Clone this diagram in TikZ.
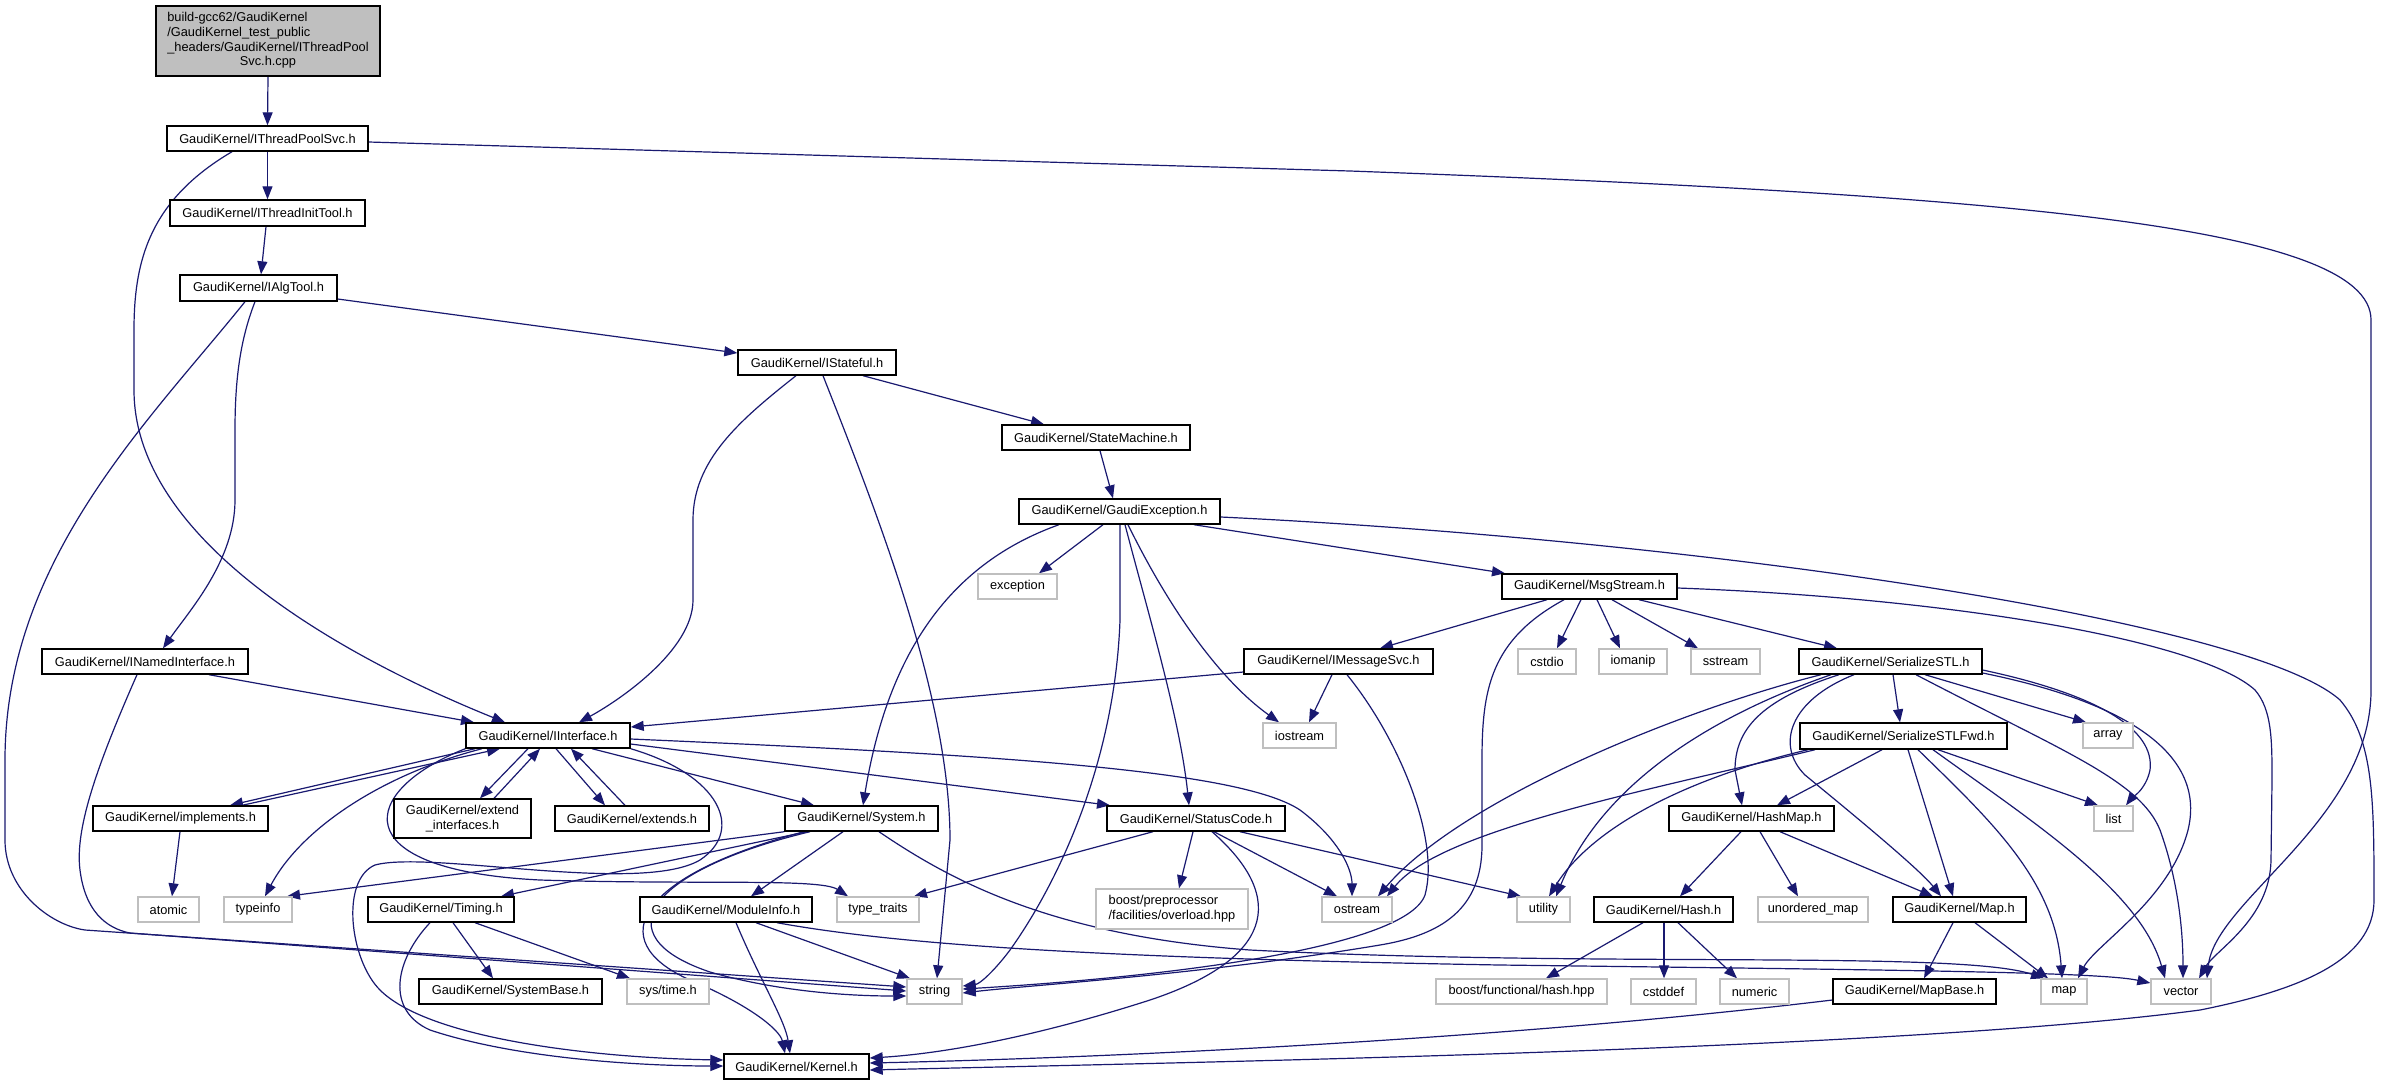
\documentclass[tikz,border=0pt]{standalone}
\usepackage{fontspec}
\setmainfont{Liberation Sans}
\usetikzlibrary{arrows.meta}
\pgfdeclarelayer{bg}
\pgfsetlayers{bg,main}
\definecolor{edgec}{HTML}{191970}
\definecolor{greyc}{HTML}{BFBFBF}
\tikzset{
  gbox/.style={draw=black, fill=white, line width=1.4pt, inner sep=0pt, font=\fontsize{12.8}{14.7}\selectfont},
  sbox/.style={gbox, draw=greyc},
  rootbox/.style={gbox, fill=greyc},
  edge/.style={draw=edgec, line width=1.2pt, -{Triangle[length=13pt,width=10pt]}},
}
\newcommand{\gn}[7]{\node[#2, minimum width={#4pt-#3pt}, minimum height={#6pt-#5pt}] (#1) at ({(#3+#4)/2},{(#5+#6)/2}) {#7};}
\begin{document}
\begin{tikzpicture}[x=1pt,y=-1pt]
\useasboundingbox (0,0) rectangle (2381,1085);
\gn{root}{rootbox}{156}{380}{6}{76}{\begin{tabular}{@{}l@{}}build-gcc62/GaudiKernel\\/GaudiKernel\_test\_public\\\_headers/GaudiKernel/IThreadPool\\\multicolumn{1}{@{}c@{}}{Svc.h.cpp}\end{tabular}}
\gn{itps}{gbox}{167}{368}{126}{151}{GaudiKernel/IThreadPoolSvc.h}
\gn{itit}{gbox}{170}{365}{200}{226}{GaudiKernel/IThreadInitTool.h}
\gn{ialg}{gbox}{180}{337}{275}{301}{GaudiKernel/IAlgTool.h}
\gn{istate}{gbox}{738}{896}{350}{375}{GaudiKernel/IStateful.h}
\gn{smach}{gbox}{1002}{1190}{425}{450}{GaudiKernel/StateMachine.h}
\gn{gexc}{gbox}{1019}{1220}{499}{524}{GaudiKernel/GaudiException.h}
\gn{exc}{sbox}{978}{1057}{574}{599}{exception}
\gn{msgs}{gbox}{1502}{1677}{574}{599}{GaudiKernel/MsgStream.h}
\gn{imsg}{gbox}{1244}{1433}{649}{674}{GaudiKernel/IMessageSvc.h}
\gn{cstdio}{sbox}{1518}{1576}{649}{674}{cstdio}
\gn{iomanip}{sbox}{1599}{1667}{649}{674}{iomanip}
\gn{sstream}{sbox}{1691}{1760}{649}{674}{sstream}
\gn{sstl}{gbox}{1799}{1982}{649}{674}{GaudiKernel/SerializeSTL.h}
\gn{inamed}{gbox}{42}{248}{649}{674}{GaudiKernel/INamedInterface.h}
\gn{iiface}{gbox}{466}{630}{723}{748}{GaudiKernel/IInterface.h}
\gn{iostream}{sbox}{1263}{1336}{723}{748}{iostream}
\gn{sstlfwd}{gbox}{1800}{2007}{723}{749}{GaudiKernel/SerializeSTLFwd.h}
\gn{array}{sbox}{2083}{2133}{723}{748}{array}
\gn{impl}{gbox}{93}{268}{806}{831}{GaudiKernel/implements.h}
\gn{extif}{gbox,align=center}{394}{531}{799}{838}{GaudiKernel/extend\\\_interfaces.h}
\gn{extends}{gbox}{555}{709}{806}{831}{GaudiKernel/extends.h}
\gn{system}{gbox}{785}{938}{806}{831}{GaudiKernel/System.h}
\gn{statcode}{gbox}{1107}{1285}{806}{831}{GaudiKernel/StatusCode.h}
\gn{hashmap}{gbox}{1669}{1834}{806}{831}{GaudiKernel/HashMap.h}
\gn{list}{sbox}{2094}{2133}{806}{831}{list}
\gn{atomic}{sbox}{138}{199}{897}{922}{atomic}
\gn{typeinfo}{sbox}{224}{292}{897}{922}{typeinfo}
\gn{timing}{gbox}{368}{514}{897}{922}{GaudiKernel/Timing.h}
\gn{modinfo}{gbox}{640}{812}{897}{922}{GaudiKernel/ModuleInfo.h}
\gn{typetraits}{sbox}{837}{919}{897}{922}{type\_traits}
\gn{boostpp}{sbox,align=left}{1096}{1248}{889}{929}{boost/preprocessor\\/facilities/overload.hpp}
\gn{ostream}{sbox}{1322}{1392}{897}{922}{ostream}
\gn{utility}{sbox}{1517}{1570}{897}{922}{utility}
\gn{hash}{gbox}{1594}{1733}{897}{922}{GaudiKernel/Hash.h}
\gn{unomap}{sbox}{1758}{1868}{897}{922}{unordered\_map}
\gn{mapH}{gbox}{1893}{2026}{897}{922}{GaudiKernel/Map.h}
\gn{sysbase}{gbox}{419}{602}{979}{1004}{GaudiKernel/SystemBase.h}
\gn{systime}{sbox}{627}{709}{979}{1004}{sys/time.h}
\gn{string}{sbox}{907}{962}{979}{1004}{string}
\gn{boostfh}{sbox}{1436}{1607}{979}{1004}{boost/functional/hash.hpp}
\gn{cstddef}{sbox}{1631}{1696}{979}{1004}{cstddef}
\gn{numeric}{sbox}{1720}{1789}{979}{1004}{numeric}
\gn{mapbase}{gbox}{1833}{1996}{979}{1004}{GaudiKernel/MapBase.h}
\gn{map}{sbox}{2041}{2087}{979}{1004}{map}
\gn{vector}{sbox}{2151}{2211}{979}{1004}{vector}
\gn{kernel}{gbox}{724}{869}{1054}{1079}{GaudiKernel/Kernel.h}
\begin{pgfonlayer}{bg}
\fill[white] (0,0) rectangle (2381,1085);
% top chain
\draw[edge] (root.south) -- (itps.north);
\draw[edge] (itps.south) -- (itit.north);
\draw[edge] (266,0|-itit.south) -- (261,0|-ialg.north);
\draw[edge] (itps.east|-0,142) -- (1350,171) .. controls (2000,195) and (2371,225) .. (2371,320) -- (2371,690) .. controls (2371,820) and (2215,900) .. (2207,0|-vector.north);
\draw[edge] (232,0|-itps.south) .. controls (150,200) and (134,260) .. (134,330) -- (134,390) .. controls (134,560) and (400,680) .. (505,0|-iiface.north);
\draw[edge] (ialg.east|-0,299) -- (istate.west|-0,353);
\draw[edge] (255,0|-ialg.south) .. controls (240,340) and (235,380) .. (235,430) -- (235,500) .. controls (235,560) and (190,610) .. (163,0|-inamed.north);
\draw[edge] (245,0|-ialg.south) .. controls (150,420) and (5,560) .. (5,760) -- (5,840) .. controls (5,890) and (50,925) .. (85,930) -- (string.west|-0,987);
\draw[edge] (209,0|-inamed.south) -- (474,0|-iiface.north);
\draw[edge] (137,0|-inamed.south) .. controls (95,770) and (75,830) .. (80,870) .. controls (85,910) and (105,928) .. (130,933) -- (string.west|-0,991);
\draw[edge] (796,0|-istate.south) .. controls (740,420) and (693,460) .. (693,520) -- (693,600) .. controls (693,650) and (620,700) .. (579,0|-iiface.north);
\draw[edge] (823,0|-istate.south) .. controls (880,520) and (950,700) .. (950,840) -- (937,0|-string.north);
\draw[edge] (863,0|-istate.south) -- (1044,0|-smach.north);
\draw[edge] (1100,0|-smach.south) -- (1113,0|-gexc.north);
% GaudiException
\draw[edge] (1103,0|-gexc.south) -- (1039,0|-exc.north);
\draw[edge] (1059,0|-gexc.south) .. controls (960,560) and (890,640) .. (863,0|-system.north);
\draw[edge] (1125,0|-gexc.south) .. controls (1150,620) and (1180,720) .. (1189,0|-statcode.north);
\draw[edge] (1128,0|-gexc.south) .. controls (1170,610) and (1220,680) .. (1279,0|-iostream.north);
\draw[edge] (1120,0|-gexc.south) -- (1120,620) .. controls (1115,760) and (1060,880) .. (1010,950) .. controls (995,970) and (980,984) .. (string.east|-0,986);
\draw[edge] (1194,0|-gexc.south) -- (1505,0|-msgs.north);
\draw[edge] (gexc.east|-0,517) .. controls (1700,540) and (2250,620) .. (2340,700) .. controls (2374,740) and (2374,800) .. (2374,900) .. controls (2374,960) and (2300,990) .. (2200,1010) .. controls (1900,1050) and (1200,1062) .. (kernel.east|-0,1070);
% MsgStream
\draw[edge] (1547,0|-msgs.south) -- (1380,0|-imsg.north);
\draw[edge] (1564,0|-msgs.south) .. controls (1490,640) and (1482,690) .. (1482,760) -- (1482,845) .. controls (1482,910) and (1440,935) .. (1380,945) .. controls (1200,975) and (1030,985) .. (string.east|-0,993);
\draw[edge] (1581,0|-msgs.south) -- (1557,0|-cstdio.north);
\draw[edge] (1597,0|-msgs.south) -- (1620,0|-iomanip.north);
\draw[edge] (1612,0|-msgs.south) -- (1698,0|-sstream.north);
\draw[edge] (1639,0|-msgs.south) -- (1837,0|-sstl.north);
\draw[edge] (msgs.east|-0,588) .. controls (1950,598) and (2200,640) .. (2255,690) .. controls (2272,710) and (2272,740) .. (2272,780) -- (2271,860) .. controls (2270,920) and (2215,950) .. (2199,0|-vector.north);
% IMessageSvc
\draw[edge] (imsg.west|-0,672) -- (iiface.east|-0,727);
\draw[edge] (1332,0|-imsg.south) -- (1309,0|-iostream.north);
\draw[edge] (1347,0|-imsg.south) .. controls (1400,740) and (1440,840) .. (1425,895) .. controls (1405,950) and (1150,978) .. (string.east|-0,989);
% SerializeSTL
\draw[edge] (1893,0|-sstl.south) -- (1900,0|-sstlfwd.north);
\draw[edge] (1925,0|-sstl.south) -- (2086,0|-array.north);
\draw[edge] (sstl.east|-0,670) .. controls (2100,695) and (2155,730) .. (2150,770) .. controls (2146,790) and (2130,800) .. (2126,0|-list.north);
\draw[edge] (sstl.east|-0,673) .. controls (2140,705) and (2205,760) .. (2188,830) .. controls (2170,900) and (2095,945) .. (2078,0|-map.north);
\draw[edge] (1916,0|-sstl.south) .. controls (2060,750) and (2140,780) .. (2160,830) .. controls (2178,880) and (2183,930) .. (2183,0|-vector.north);
\draw[edge] (1839,0|-sstl.south) .. controls (1760,700) and (1735,730) .. (1735,770) -- (1742,0|-hashmap.north);
\draw[edge] (1854,0|-sstl.south) .. controls (1790,700) and (1775,745) .. (1805,775) .. controls (1860,820) and (1920,870) .. (1941,0|-mapH.north);
\draw[edge] (1821,0|-sstl.south) .. controls (1680,710) and (1460,800) .. (1378,0|-ostream.north);
\draw[edge] (1831,0|-sstl.south) .. controls (1700,720) and (1600,790) .. (1556,0|-utility.north);
% SerializeSTLFwd
\draw[edge] (1882,0|-sstlfwd.south) -- (1777,0|-hashmap.north);
\draw[edge] (1908,0|-sstlfwd.south) -- (1953,0|-mapH.north);
\draw[edge] (1918,0|-sstlfwd.south) .. controls (1990,820) and (2055,880) .. (2062,0|-map.north);
\draw[edge] (1933,0|-sstlfwd.south) .. controls (2030,820) and (2140,890) .. (2165,0|-vector.north);
\draw[edge] (1938,0|-sstlfwd.south) -- (2098,0|-list.north);
\draw[edge] (1815,0|-sstlfwd.south) .. controls (1650,790) and (1440,830) .. (1387,0|-ostream.north);
\draw[edge] (1808,0|-sstlfwd.south) .. controls (1680,780) and (1590,830) .. (1549,0|-utility.north);
% HashMap, Map, Hash
\draw[edge] (1741,0|-hashmap.south) -- (1680,0|-hash.north);
\draw[edge] (1760,0|-hashmap.south) -- (1798,0|-unomap.north);
\draw[edge] (1780,0|-hashmap.south) -- (1933,0|-mapH.north);
\draw[edge] (1953,0|-mapH.south) -- (1924,0|-mapbase.north);
\draw[edge] (1975,0|-mapH.south) -- (2048,0|-map.north);
\draw[edge] (1643,0|-hash.south) -- (1546,0|-boostfh.north);
\draw[edge] (1664,0|-hash.south) -- (1664,0|-cstddef.north);
\draw[edge] (1678,0|-hash.south) -- (1737,0|-numeric.north);
\draw[edge] (mapbase.west|-0,1000) .. controls (1500,1040) and (1100,1058) .. (kernel.east|-0,1063);
% StatusCode
\draw[edge] (1153,0|-statcode.south) -- (914,0|-typetraits.north);
\draw[edge] (1193,0|-statcode.south) -- (1179,0|-boostpp.north);
\draw[edge] (1214,0|-statcode.south) -- (1337,0|-ostream.north);
\draw[edge] (1240,0|-statcode.south) -- (1521,0|-utility.north);
\draw[edge] (1212,0|-statcode.south) .. controls (1290,900) and (1270,960) .. (1150,1000) .. controls (1010,1045) and (920,1055) .. (kernel.east|-0,1058);
% IInterface
\draw[edge] (475,0|-iiface.south) -- (230,0|-impl.north);
\draw[edge] (242,0|-impl.north) -- (500,0|-iiface.south);
\draw[edge] (528,0|-iiface.south) -- (480,0|-extif.north);
\draw[edge] (494,0|-extif.north) -- (540,0|-iiface.south);
\draw[edge] (556,0|-iiface.south) -- (605,0|-extends.north);
\draw[edge] (625,0|-extends.north) -- (571,0|-iiface.south);
\draw[edge] (482,0|-iiface.south) .. controls (380,775) and (300,830) .. (265,0|-typeinfo.north);
\draw[edge] (iiface.south west) .. controls (360,790) and (340,870) .. (540,880) .. controls (700,885) and (820,878) .. (848,0|-typetraits.north);
\draw[edge] (592,0|-iiface.south) -- (814,0|-system.north);
\draw[edge] (iiface.east|-0,744) -- (1110,0|-statcode.north);
\draw[edge] (iiface.east|-0,739) .. controls (1000,755) and (1240,770) .. (1300,810) .. controls (1340,840) and (1352,870) .. (1352,0|-ostream.north);
\draw[edge] (iiface.south east) .. controls (720,775) and (745,830) .. (700,860) .. controls (640,895) and (430,850) .. (375,865) .. controls (340,880) and (350,960) .. (380,990) .. controls (430,1040) and (600,1058) .. (kernel.west|-0,1060);
% System
\draw[edge] (system.south west) -- (287,0|-typeinfo.north);
\draw[edge] (807,0|-system.south) -- (501,0|-timing.north);
\draw[edge] (810,0|-system.south) .. controls (650,870) and (600,935) .. (710,972) .. controls (790,995) and (870,996) .. (string.west|-0,996);
\draw[edge] (804,0|-system.south) .. controls (640,875) and (600,940) .. (690,980) .. controls (750,1005) and (780,1030) .. (785,0|-kernel.north);
\draw[edge] (843,0|-system.south) -- (751,0|-modinfo.north);
\draw[edge] (879,0|-system.south) .. controls (950,880) and (1050,935) .. (1250,950) .. controls (1600,968) and (1960,950) .. (2044,0|-map.north);
% ModuleInfo, Timing, implements
\draw[edge] (736,0|-modinfo.south) .. controls (760,980) and (785,1020) .. (790,0|-kernel.north);
\draw[edge] (756,0|-modinfo.south) -- (910,0|-string.north);
\draw[edge] (777,0|-modinfo.south) .. controls (900,945) and (1100,958) .. (1500,965) .. controls (1900,970) and (2100,972) .. (vector.west|-0,983);
\draw[edge] (453,0|-timing.south) -- (493,0|-sysbase.north);
\draw[edge] (475,0|-timing.south) -- (630,0|-systime.north);
\draw[edge] (430,0|-timing.south) .. controls (395,960) and (385,1010) .. (430,1030) .. controls (520,1060) and (650,1066) .. (kernel.west|-0,1066);
\draw[edge] (180,0|-impl.south) -- (172,0|-atomic.north);
\end{pgfonlayer}
\end{tikzpicture}
\end{document}
